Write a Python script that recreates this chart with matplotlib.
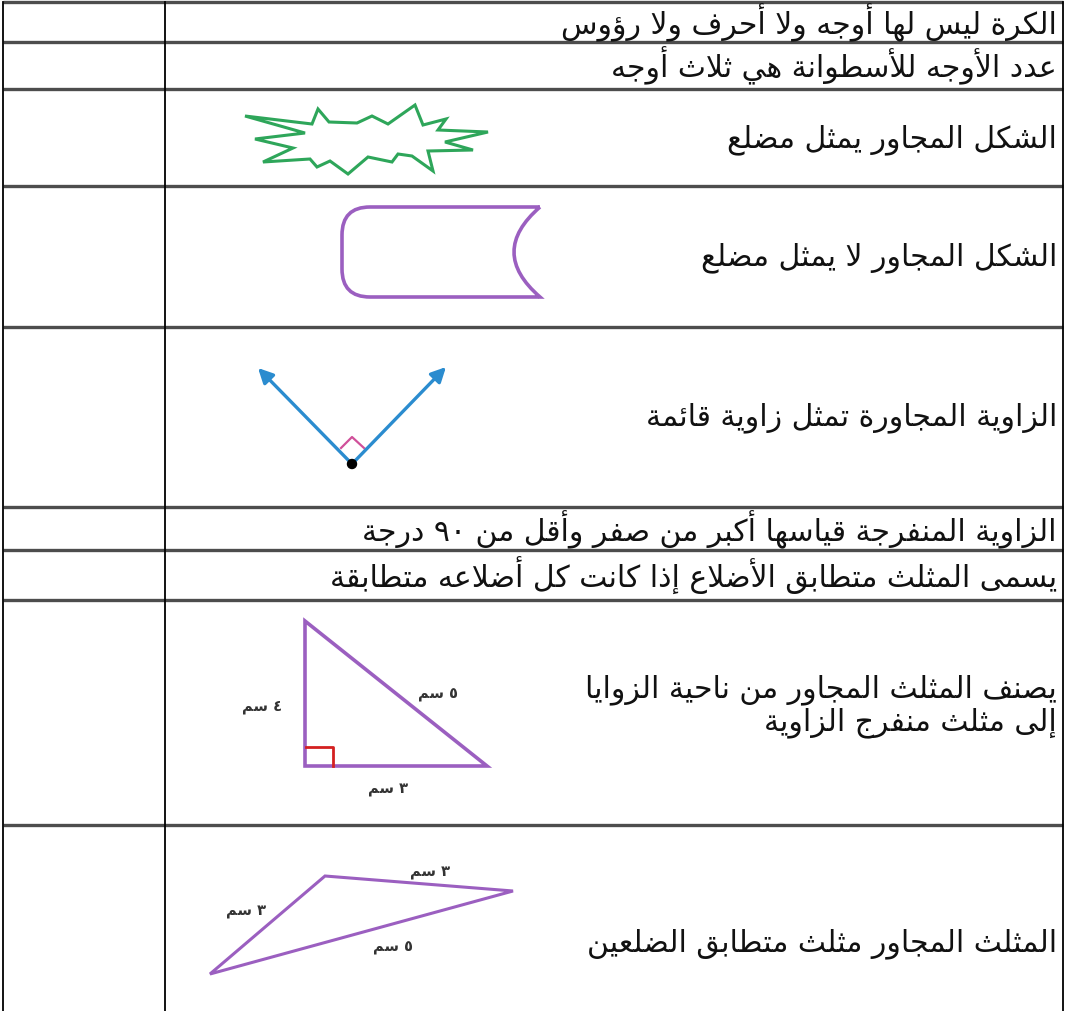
import matplotlib
matplotlib.use('Agg')
import matplotlib.pyplot as plt
from matplotlib.path import Path
from matplotlib.patches import PathPatch, Polygon, Circle

# statements in the table (one list entry per printed line)
statements = [
    ['الكرة ليس لها أوجه ولا أحرف ولا رؤوس'],
    ['عدد الأوجه للأسطوانة هي ثلاث أوجه'],
    ['الشكل المجاور يمثل مضلع'],
    ['الشكل المجاور لا يمثل مضلع'],
    ['الزاوية المجاورة تمثل زاوية قائمة'],
    ['الزاوية المنفرجة قياسها أكبر من صفر وأقل من ٩٠ درجة'],
    ['يسمى المثلث متطابق الأضلاع إذا كانت كل أضلاعه متطابقة'],
    ['يصنف المثلث المجاور من ناحية الزوايا', 'إلى مثلث منفرج الزاوية'],
    ['المثلث المجاور مثلث متطابق الضلعين'],
]

# drawings in the cells
star_pts = [(245, 117), (312, 125), (318, 110), (329, 123), (357, 124), (372, 117),
            (388, 125), (415, 106), (423, 126), (446, 120), (438, 131), (488, 133),
            (445, 143), (473, 151), (428, 152), (433, 172), (412, 157), (398, 155),
            (392, 163), (368, 158), (348, 175), (330, 162), (317, 168), (310, 160),
            (263, 163), (293, 149), (255, 140), (305, 134)]
right_tri = [(305, 622), (305, 767), (487, 767)]
right_tri_labels = [('٤ سم', 262, 706), ('٥ سم', 438, 694), ('٣ سم', 388, 790)]
obtuse_tri = [(325, 877), (513, 892), (210, 975)]
obtuse_tri_labels = [('٣ سم', 430, 873), ('٣ سم', 246, 912), ('٥ سم', 393, 948)]

# table layout (pixels)
row_edges = [3, 43, 90, 187, 328, 508, 551, 601, 826, 1012]
col_edges = [3, 165, 1063]
text_y = [23, 66, 140, 258, 418, 530, 576, (690, 723), 944]

# ---- minimal arabic shaping (presentation forms + visual order) ----
DUAL = {'ئ': 0xFE89, 'ب': 0xFE8F, 'ت': 0xFE95, 'ث': 0xFE99, 'ج': 0xFE9D, 'ح': 0xFEA1,
        'خ': 0xFEA5, 'س': 0xFEB1, 'ش': 0xFEB5, 'ص': 0xFEB9, 'ض': 0xFEBD, 'ط': 0xFEC1,
        'ظ': 0xFEC5, 'ع': 0xFEC9, 'غ': 0xFECD, 'ف': 0xFED1, 'ق': 0xFED5, 'ك': 0xFED9,
        'ل': 0xFEDD, 'م': 0xFEE1, 'ن': 0xFEE5, 'ه': 0xFEE9, 'ي': 0xFEF1}
RIGHT = {'آ': 0xFE81, 'أ': 0xFE83, 'ؤ': 0xFE85, 'إ': 0xFE87, 'ا': 0xFE8D, 'ة': 0xFE93,
         'د': 0xFEA9, 'ذ': 0xFEAB, 'ر': 0xFEAD, 'ز': 0xFEAF, 'و': 0xFEED, 'ى': 0xFEEF}
LAMALEF = {'آ': 0xFEF5, 'أ': 0xFEF7, 'إ': 0xFEF9, 'ا': 0xFEFB}


def shape_word(w):
    # group lam-alef into one right-joining unit
    units = []
    i = 0
    while i < len(w):
        if w[i] == 'ل' and i + 1 < len(w) and w[i + 1] in LAMALEF:
            units.append(('R', LAMALEF[w[i + 1]]))
            i += 2
            continue
        c = w[i]
        if c in DUAL:
            units.append(('D', DUAL[c]))
        elif c in RIGHT:
            units.append(('R', RIGHT[c]))
        else:
            units.append(('N', c))
        i += 1
    out = []
    for k, (t, base) in enumerate(units):
        if t == 'N':
            out.append(base)
            continue
        prev = k > 0 and units[k - 1][0] == 'D'
        nxt = t == 'D' and k + 1 < len(units) and units[k + 1][0] in 'DR'
        if prev and nxt:
            cp = base + 3
        elif nxt:
            cp = base + 2
        elif prev:
            cp = base + 1
        else:
            cp = base
        out.append(chr(cp))
    return ''.join(out[::-1])


def ar(s):
    words = []
    for w in s.split(' '):
        if w and all(c.isdigit() for c in w):
            words.append(w)
        else:
            words.append(shape_word(w))
    return ' '.join(words[::-1])


fig = plt.figure(figsize=(10.65, 10.12), dpi=100)
ax = fig.add_axes([0, 0, 1, 1])
ax.set_xlim(0, 1065)
ax.set_ylim(1012, 0)
ax.axis('off')

# grid
for y in row_edges[:-1]:
    ax.plot([col_edges[0], col_edges[-1]], [y, y], color='#4d4d4d', lw=2.4,
            solid_capstyle='butt')
for x in col_edges:
    ax.plot([x, x], [row_edges[0], row_edges[-1]], color='black', lw=1.3)

# statements
font = 'DejaVu Sans'
for lines, ys in zip(statements, text_y):
    if not isinstance(ys, tuple):
        ys = (ys,)
    for line, y in zip(lines, ys):
        ax.text(1057, y, ar(line), ha='right', va='center', fontsize=21.5,
                family=font, color='#111111')

# star (polygon)
ax.add_patch(Polygon(star_pts, closed=True, fill=False, ec='#2ea65a', lw=2.2,
                     joinstyle='miter'))

# cylinder side view (not a polygon)
verts = [(540, 208), (370, 208), (342, 208), (342, 236), (342, 270), (342, 298),
         (370, 298), (540, 298), (488, 253), (540, 208)]
codes = [Path.MOVETO, Path.LINETO, Path.CURVE3, Path.CURVE3, Path.LINETO,
         Path.CURVE3, Path.CURVE3, Path.LINETO, Path.CURVE3, Path.CURVE3]
ax.add_patch(PathPatch(Path(verts, codes), fill=False, ec='#9b5fc0', lw=2.6))

# right angle with arrows
vtx = (352, 465)
for tip in [(258, 369), (446, 368)]:
    ax.annotate('', xy=tip, xytext=vtx,
                arrowprops=dict(arrowstyle='-|>', color='#2b8ccf', lw=2.4,
                                mutation_scale=22, shrinkA=0, shrinkB=0))
ax.plot([341, 352, 364], [449, 438, 449], color='#d0509a', lw=1.6)
ax.add_patch(Circle(vtx, 4.5, color='black', zorder=5))

# right triangle 3-4-5
ax.add_patch(Polygon(right_tri, closed=True, fill=False, ec='#9b5fc0', lw=2.6))
ax.plot([306, 333, 333], [748, 748, 767], color='#d42020', lw=2)
for txt, x, y in right_tri_labels:
    ax.text(x, y, ar(txt), ha='center', va='center', fontsize=10.5,
            family=font, color='#333333', fontweight='bold')

# obtuse triangle
ax.add_patch(Polygon(obtuse_tri, closed=True, fill=False, ec='#9b5fc0', lw=2.2))
for txt, x, y in obtuse_tri_labels:
    ax.text(x, y, ar(txt), ha='center', va='center', fontsize=10.5,
            family=font, color='#333333', fontweight='bold')

fig.savefig('out.png', dpi=100, facecolor='white')
